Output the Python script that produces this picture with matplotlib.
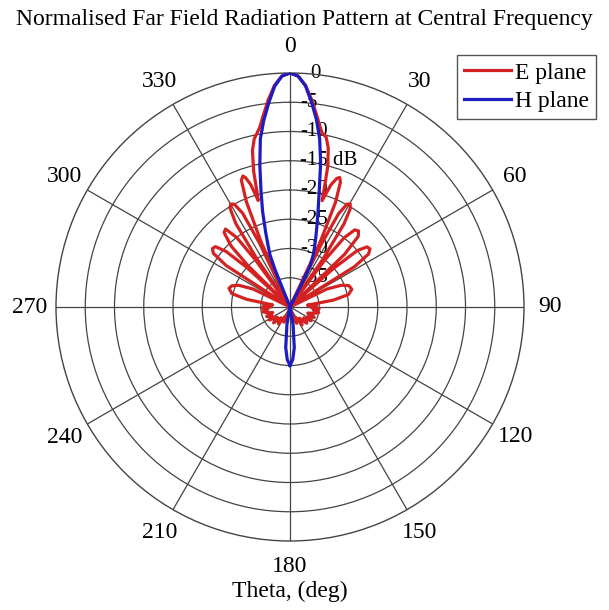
import numpy as np
import matplotlib
matplotlib.use("Agg")
import matplotlib.pyplot as plt
import matplotlib.transforms as mtransforms

plt.rcParams['font.family'] = ['Liberation Serif', 'DejaVu Serif']

# ---------------- data (theta in degrees, level in dB) ----------------
e_theta = [-180, -172, -165, -158, -152, -146, -140, -134, -128, -122, -117, -112,
           -108, -104, -100, -96, -92, -89, -86,
           -83, -80, -77, -73, -70, -67, -64, -61,
           -59, -57, -55, -53, -51, -49, -47.5,
           -46.5, -45.5, -44, -41.5, -39.6, -37.5, -36.3,
           -35.3, -34.5, -33, -31.3, -30, -28.5, -26.8, -25.5,
           -24.8, -24, -22.5, -21, -19.8, -19, -17.8,
           -16.6, -16, -15, -13.5, -12, -10.8, -9.5, -8, -6, -4, -2,
           0,
           2, 4, 6, 8, 9.5, 10.5, 12, 13.5, 15, 16, 16.8,
           18.5, 20, 21, 22, 23.5, 25, 25.8,
           26.5, 27.5, 29, 30.3, 31.5, 33, 34.5, 35.3,
           36.5, 38, 40, 42, 44, 46, 47.5,
           48.5, 50, 52, 54, 56, 58, 60,
           61, 64, 67, 70, 74, 78, 81, 84,
           87, 90, 93, 97, 101, 105, 109, 113, 118, 123, 128, 134, 140,
           146, 152, 158, 165, 172, 180]
e_db = [-40, -40, -39, -37.2, -38.2, -36.5, -37.6, -36.1, -37.2, -35.8, -36.6, -35.7,
        -36.9, -36, -35.3, -36.2, -35.2, -36.8, -35.5,
        -37, -32.5, -29.8, -29.1, -29.4, -30.5, -33, -40,
        -40, -27, -24, -23.4, -23.6, -25.5, -30,
        -40, -30, -25.5, -23, -22.7, -25, -30,
        -40, -30, -23, -20.3, -19.7, -20, -22, -28,
        -40, -28, -20.5, -16.8, -16.2, -16.6, -18,
        -21, -19.5, -16, -12.5, -10.6, -9.8, -8.8, -7.0, -4.4, -2.0, -0.5,
        0,
        -0.5, -2.0, -4.4, -7.0, -8.8, -9.8, -10.3, -12, -15, -18.5, -21,
        -18, -16.6, -16.3, -17, -20.5, -28, -40,
        -28, -22, -19.9, -19.6, -20.3, -23, -30, -40,
        -30, -25, -22.8, -22.5, -23.2, -27, -40,
        -30, -25, -23.3, -23.1, -23.8, -27, -40,
        -40, -33, -30.5, -29.3, -29, -29.8, -32.5, -37,
        -35.5, -36.5, -35, -36, -35, -35.8, -36.8, -35.5, -36.5, -35.7, -37, -36, -37.5,
        -36.3, -38, -37, -39, -40, -40]

h_theta = [-180, -177, -174, -170, -166, -150, -90, -40, -22.3, -21.8, -21, -20, -18,
           -16, -14, -12, -10, -8, -6, -4, -2, 0, 2, 4, 6, 8, 10, 12, 14, 16, 18,
           20, 22, 24, 26, 27, 27.6, 40, 90, 150, 166, 170, 174, 177, 180]
h_db = [-30, -31, -33, -37, -40, -40, -40, -40, -40, -33, -30.5, -29.3, -26.5,
        -23, -19.5, -15.2, -10.8, -7.8, -5, -2.2, -0.5, 0, -0.5, -2.1, -4.8, -7.6, -10.8,
        -14.8, -19.3, -22.5, -25, -27, -28.7, -30.2, -32, -36, -40, -40, -40, -40, -40,
        -37, -33, -31, -30]

theta_ticks = list(range(0, 360, 30))
r_ticks = [0, -5, -10, -15, -20, -25, -30, -35]
r_labels = ['0', '-5', '-10', '-15 dB', '-20', '-25', '-30', '-35']
series_names = ['E plane', 'H plane']

# ---------------- figure ----------------
W, H = 609, 610
fig = plt.figure(figsize=(W / 100, H / 100), dpi=100)
cx, cy, R = 290, 307, 234
ax = fig.add_axes([(cx - R) / W, (H - cy - R) / H, 2 * R / W, 2 * R / H], projection='polar')

ax.set_theta_zero_location('N')
ax.set_theta_direction(-1)
rmin, rmax = -40, 0
ax.set_rlim(rmin, rmax)

red = '#d42222'
blue = '#1c1cc0'
ax.plot(np.deg2rad(e_theta), e_db, color=red, lw=2.3, label=series_names[0], zorder=3)
ax.plot(np.deg2rad(h_theta), h_db, color=blue, lw=2.3, label=series_names[1], zorder=4)

gridc = '#444444'
ax.set_thetagrids(theta_ticks, [''] * len(theta_ticks))
ax.set_rticks(r_ticks[1:])
ax.set_yticklabels([])
ax.grid(True, color=gridc, lw=0.9)
ax.spines['polar'].set_color(gridc)
ax.spines['polar'].set_linewidth(1.0)

# angular labels centred on a circle 26 px outside the plot edge
r_lab = rmax + (rmax - rmin) * 26 / R
for t in theta_ticks:
    ax.text(np.deg2rad(t), r_lab, str(t), ha='center', va='center',
            fontsize=17, clip_on=False)

for v, lab in zip(r_ticks, r_labels):
    dx = 10 if lab.startswith('-') else 20
    tr = mtransforms.offset_copy(ax.transData, fig=fig, x=dx, y=0, units='dots')
    ax.text(0, v, lab, transform=tr, ha='left', va='center', fontsize=15, zorder=2)

fig.text(0.5, 1 - 19 / H, 'Normalised Far Field Radiation Pattern at Central Frequency',
         ha='center', va='center', fontsize=17)
fig.text(cx / W, 1 - 591 / H, 'Theta, (deg)', ha='center', va='center', fontsize=17)

leg = ax.legend(loc='upper right', bbox_to_anchor=(596 / W, 1 - 55 / H),
                bbox_transform=fig.transFigure, fontsize=17, fancybox=False,
                edgecolor='#555555', framealpha=1, borderaxespad=0,
                handlelength=2.0, handletextpad=0.15, borderpad=0.3, labelspacing=0.3)
leg.get_frame().set_linewidth(1.0)

fig.savefig('out.png', dpi=100)
